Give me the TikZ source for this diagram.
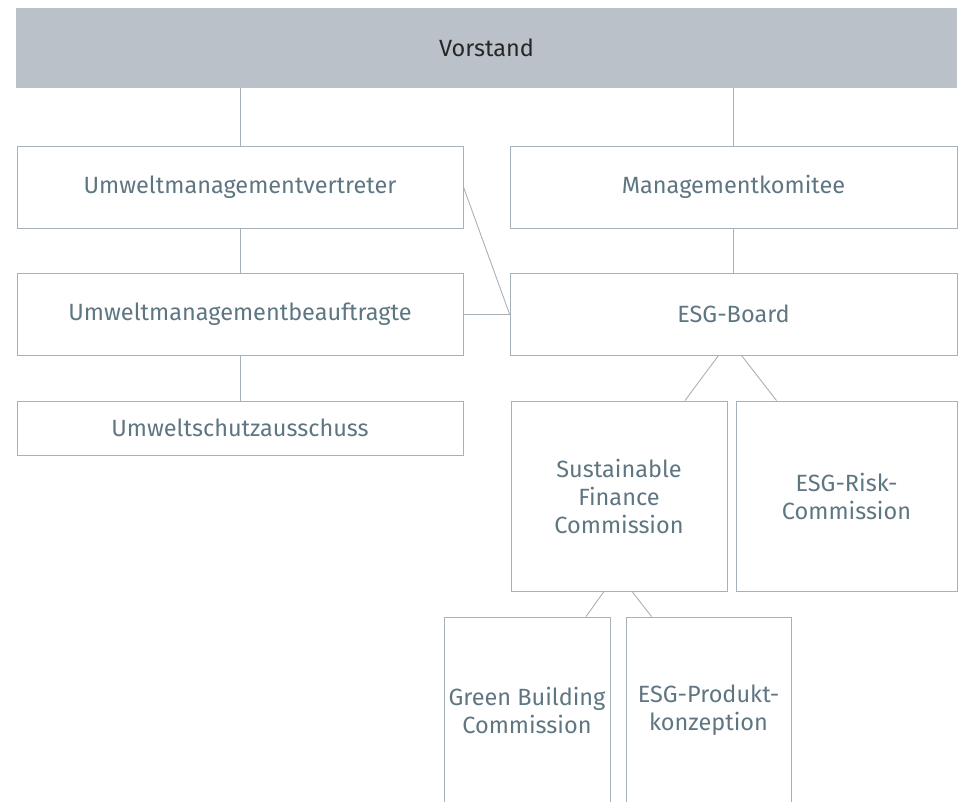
\documentclass[tikz,border=0pt]{standalone}
\usepackage{fontspec}
\setmainfont{Fira Sans}
\definecolor{barfill}{HTML}{BAC1C8}
\definecolor{boxline}{HTML}{A7B1BA}
\definecolor{boxtext}{HTML}{5E7682}
\begin{document}
\begin{tikzpicture}[x=1pt, y=-1pt,
    unit/.style ={rectangle, draw=boxline, line width=0.9pt, text=boxtext,
      align=center, inner sep=0pt, font=\fontsize{23.5}{28}\selectfont},
    link/.style ={draw=boxline, line width=0.9pt}]
   \useasboundingbox (0,0) rectangle (962,802);
   \node[fill=barfill, minimum width=941pt, minimum height=80pt,
     font=\fontsize{23.5}{28}\selectfont, text=black!85] (vorstand) at (486.5,48) {Vorstand};

   \node[unit, minimum width=446pt, minimum height=82pt] (vertreter)   at (240,187)   {Umweltmanagementvertreter};
   \node[unit, minimum width=446pt, minimum height=82pt] (beauftragte) at (240,314)   {Umweltmanagementbeauftragte};
   \node[unit, minimum width=446pt, minimum height=54pt] (ausschuss)   at (240,428)   {Umweltschutzausschuss};
   \node[unit, minimum width=447pt, minimum height=82pt] (komitee)     at (733.5,187) {Managementkomitee};
   \node[unit, minimum width=447pt, minimum height=82pt] (board)       at (733.5,314) {ESG-Board};
   \node[unit, minimum width=216pt, minimum height=190pt] (finance)    at (619,496)   {Sustainable\\Finance\\Commission};
   \node[unit, minimum width=221pt, minimum height=190pt] (risk)       at (846.5,496) {ESG-Risk-\\Commission};
   \node[unit, minimum width=166pt, minimum height=186pt] (building)   at (527,710)   {Green Building\\Commission};
   \node[unit, minimum width=165pt, minimum height=186pt] (produkt)    at (708.5,710) {ESG-Produkt-\\konzeption};

   \draw[link] (vertreter.north) to (vertreter.north |- vorstand.south);
   \draw[link] (komitee.north) to (komitee.north |- vorstand.south);
   \draw[link] (vertreter) to (beauftragte);
   \draw[link] (beauftragte) to (ausschuss);
   \draw[link] (komitee) to (board);
   \draw[link] (vertreter.east) to (board.west);
   \draw[link] (beauftragte.east) to (board.west);
   \draw[link] ([xshift=-15pt]board.south) to ([xshift=66pt]finance.north);
   \draw[link] ([xshift=8pt]board.south) to ([xshift=-70pt]risk.north);
   \draw[link] ([xshift=-15pt]finance.south) to ([xshift=59pt]building.north);
   \draw[link] ([xshift=13pt]finance.south) to ([xshift=-57pt]produkt.north);
 \end{tikzpicture}
\end{document}
